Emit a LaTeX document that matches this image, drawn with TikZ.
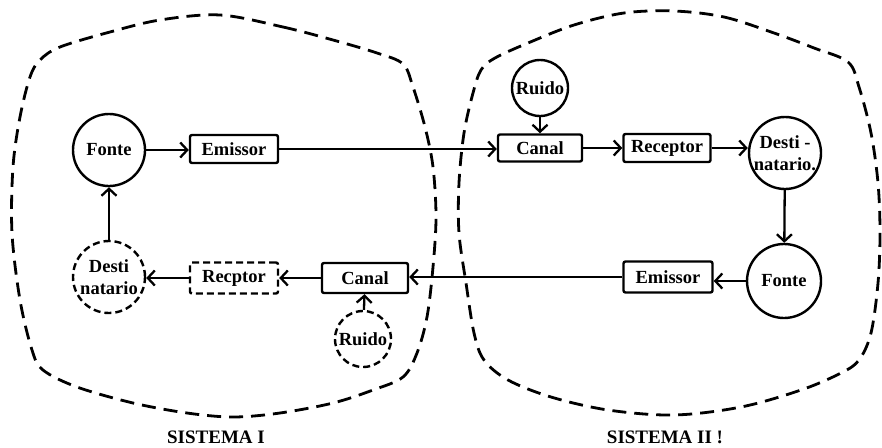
\documentclass[tikz,border=0pt]{standalone}
\usepackage{fontspec}
\setmainfont{Liberation Serif}
\usetikzlibrary{arrows.meta}
\begin{document}
\begin{tikzpicture}[x=1pt,y=-1pt,
  every node/.style={font=\bfseries\fontsize{18.5}{22}\selectfont},
  boxnode/.style={draw,line width=2.4pt,rounded corners=2pt,minimum height=28pt,inner sep=0pt},
  circnode/.style={draw,circle,line width=2.4pt,inner sep=0pt,align=center},
  dashedline/.style={dash pattern=on 7pt off 4pt},
  boundary/.style={line width=2.8pt,dash pattern=on 14pt off 8pt},
  conn/.style={line width=2.3pt,-{Straight Barb[length=7pt,width=15pt]}},
  label/.style={font=\bfseries\fontsize{19}{22}\selectfont}]
\useasboundingbox (0,0) rectangle (882,447);
% system boundaries
\draw[boundary] plot[smooth cycle,tension=0.55] coordinates {
 (220,15) (283,27) (333,40) (377,53) (403,64) (413,87) (425,127) (433,167) (436,217)
 (433,267) (427,317) (417,353) (403,377) (373,390) (333,403) (280,413) (233,417)
 (187,413) (133,403) (77,387) (43,370) (32,350) (20,300) (12,233) (13,167) (20,117)
 (30,77) (40,60) (60,47) (110,32) (160,20)};
\draw[boundary] plot[smooth cycle,tension=0.55] coordinates {
 (674,11) (724,17) (774,33) (814,48) (848,62) (859,87) (871,133) (878,183) (880,233)
 (878,283) (871,333) (859,360) (841,373) (801,390) (741,407) (674,415) (608,410)
 (551,397) (508,380) (484,360) (474,333) (466,283) (459,233) (459,183) (464,133)
 (473,93) (481,70) (495,58) (528,43) (574,25) (624,13)};
% Sistema I
\node[circnode,minimum size=72pt] (fonte1) at (109,150) {Fonte};
\node[boxnode,minimum width=88pt] (emissor1) at (234,149) {Emissor};
\node[circnode,dashedline,minimum size=72pt] (dest1) at (109,277) {Desti\\natario};
\node[boxnode,dashedline,minimum width=88pt,minimum height=31pt] (receptor1) at (234,278) {Recptor};
\node[boxnode,minimum width=86pt,minimum height=30pt] (canal1) at (365,278) {Canal};
\node[circnode,dashedline,minimum size=56pt] (ruido1) at (363,339) {Ruido};
% Sistema II
\node[circnode,minimum size=56pt] (ruido2) at (540,88) {Ruido};
\node[boxnode,minimum width=84pt,minimum height=27pt] (canal2) at (540,148) {Canal};
\node[boxnode,minimum width=87pt] (receptor2) at (667,148) {Receptor};
\node[circnode,minimum size=72pt] (dest2) at (785,153) {Desti -\\natario.};
\node[circnode,minimum size=74pt] (fonte2) at (784,281) {Fonte};
\node[boxnode,minimum width=89pt,minimum height=31pt] (emissor2) at (668,277) {Emissor};
% connectors
\draw[conn] (fonte1.east) -- (emissor1.west |- fonte1.east);
\draw[conn] (emissor1.east) -- (canal2.west |- emissor1.east);
\draw[conn] (ruido2) -- (canal2);
\draw[conn] (canal2.east) -- (receptor2.west |- canal2.east);
\draw[conn] (receptor2.east) -- (receptor2.east -| dest2.west);
\draw[conn] (dest2) -- (fonte2);
\draw[conn] (fonte2.west) -- (emissor2.east |- fonte2.west);
\draw[conn] (emissor2.west) -- (canal1.east |- emissor2.west);
\draw[conn] (ruido1) -- (canal1);
\draw[conn] (canal1.west) -- (receptor1.east |- canal1.west);
\draw[conn] (receptor1.west) -- (receptor1.west -| dest1.east);
\draw[conn] (dest1) -- (fonte1);
% labels
\node[label] (sis1) at (216,437) {SISTEMA I};
\node[label] (sis2) at (665,437) {SISTEMA II !};
\end{tikzpicture}
\end{document}
